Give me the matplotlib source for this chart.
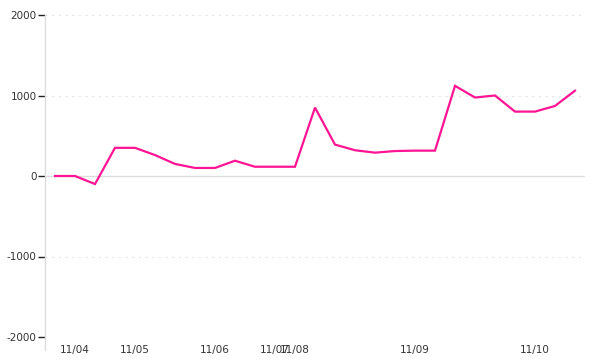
import matplotlib
matplotlib.use('Agg')
import matplotlib.pyplot as plt

# 数据
values = [0, 0, -100, 350, 350, 260, 150, 100, 100, 190, 115, 115, 115, 850,
          390, 320, 290, 310, 315, 315, 1120, 975, 1000, 800, 800, 870, 1060]
tick_idx = [1, 4, 8, 11, 12, 18, 24]
tick_labels = ['11/04', '11/05', '11/06', '11/07', '11/08', '11/09', '11/10']
y_ticks = [-2000, -1000, 0, 1000, 2000]

fig = plt.figure(figsize=(6, 3.6), dpi=100)
ax = fig.add_axes([45 / 600, (360 - 337) / 360, 540 / 600, 322 / 360])

x = list(range(len(values)))
ax.plot(x, values, color='#ff1493', lw=1.6, solid_joinstyle='miter')

ax.set_xlim(-0.5, len(values) - 0.5)
ax.set_ylim(-2000, 2000)

# 网格线 (0 线实线)
for v in y_ticks:
    if v == 0:
        ax.axhline(v, color='#dddddd', lw=1, zorder=0)
    else:
        ax.axhline(v, color='#e6e6e6', lw=0.8, ls=(0, (2, 4)), zorder=0)

for s in ['top', 'right', 'bottom', 'left']:
    ax.spines[s].set_visible(False)
# 左轴线稍微延长到底部
ax.plot([0, 0], [-0.04, 1], transform=ax.transAxes, color='#dddddd', lw=1,
        clip_on=False)

ax.set_yticks(y_ticks)
ax.set_yticklabels([str(v) for v in y_ticks])
ax.tick_params(axis='y', length=5, width=1, color='#222222', pad=1,
               labelsize=7.5, labelcolor='#333333')

ax.set_xticks(tick_idx)
ax.set_xticklabels(tick_labels)
ax.tick_params(axis='x', length=0, pad=6, labelsize=7.5, labelcolor='#333333')

fig.savefig('out.png', dpi=100)
